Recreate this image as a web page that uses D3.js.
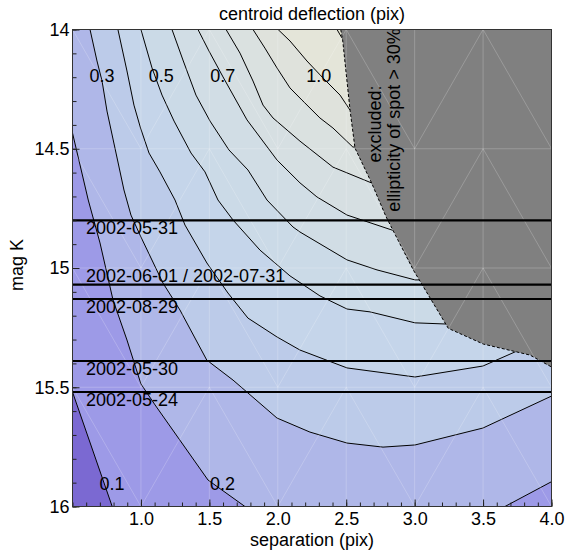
<!DOCTYPE html>
<html><head><meta charset="utf-8">
<script src="https://cdn.jsdelivr.net/npm/d3@7"></script>
<style>
body{margin:0;background:#fff;}
text{font-family:"Liberation Sans",Arial,Helvetica,sans-serif;}
</style></head><body>
<svg id="chart" width="567" height="552"></svg>
<script>
// ---------------- DATA ----------------
// contour levels (centroid deflection, pix)
const levels = [0.1,0.2,0.3,0.4,0.5,0.6,0.7,0.8,0.9,1.0,1.1];
// contour pieces: [separation, magK]
const c010  = [[0.5,15.52],[0.79,16.0]];
const c020a = [[0.5,14.434],[0.555,14.568],[0.615,14.715],[0.701,14.895],[0.796,15.134],[0.898,15.302],[1.0,15.486],[1.103,15.574],[1.49,15.889],[1.76,16.0]];
const c020b = [[3.66,16.0],[4.0,15.896]];
const c030  = [[0.628,14.0],[0.679,14.132],[0.716,14.216],[0.752,14.342],[0.818,14.518],[0.876,14.673],[0.927,14.778],[1.0,14.87],[1.161,15.063],[1.285,15.176],[1.481,15.386],[1.673,15.47],[1.994,15.629],[2.235,15.688],[2.506,15.734],[2.769,15.751],[3.003,15.742],[3.499,15.671],[4.0,15.537]];
const c040  = [[0.832,14.0],[0.898,14.174],[0.949,14.317],[0.997,14.413],[1.059,14.518],[1.139,14.597],[1.249,14.715],[1.322,14.82],[1.482,14.979],[1.636,15.105],[1.782,15.21],[1.994,15.289],[2.162,15.344],[2.506,15.419],[3.003,15.457],[3.499,15.411],[3.733,15.352],[4.0,15.281]];
const c050  = [[1.0,14.0],[1.081,14.161],[1.154,14.275],[1.242,14.384],[1.366,14.518],[1.468,14.597],[1.563,14.715],[1.673,14.799],[1.87,14.925],[2.089,15.033],[2.308,15.117],[2.506,15.172],[2.674,15.184],[3.003,15.23],[3.237,15.235],[4.0,15.134]];
const c060  = [[1.227,14.0],[1.307,14.128],[1.402,14.275],[1.505,14.384],[1.643,14.505],[1.782,14.589],[1.921,14.715],[2.111,14.828],[2.162,14.849],[2.506,14.966],[2.725,15.008],[3.003,15.05],[3.186,15.05],[4.0,14.945]];
const c070  = [[1.417,14.0],[1.497,14.09],[1.6,14.199],[1.775,14.379],[1.994,14.547],[2.162,14.643],[2.286,14.702],[2.506,14.778],[2.835,14.841],[3.0,14.84],[4.0,14.778]];
const c080  = [[1.622,14.0],[1.724,14.099],[1.819,14.216],[1.892,14.317],[1.965,14.371],[2.162,14.468],[2.403,14.577],[2.688,14.644],[2.9,14.64],[4.0,14.61]];
const c090  = [[1.819,14.0],[1.906,14.078],[1.994,14.161],[2.089,14.245],[2.177,14.296],[2.308,14.371],[2.403,14.413],[2.549,14.493],[2.7,14.49],[4.0,14.38]];
const c100  = [[2.002,14.0],[2.089,14.048],[2.213,14.132],[2.33,14.203],[2.455,14.275],[2.528,14.338],[2.7,14.33],[4.0,14.212]];
const c110  = [[2.433,14.0],[2.469,14.036],[2.6,14.04],[4.0,14.044]];
const pieceLevels = [0.1,0.2,0.2,0.3,0.4,0.5,0.6,0.7,0.8,0.9,1.0,1.1];
const pieceArrays = [c010,c020a,c020b,c030,c040,c050,c060,c070,c080,c090,c100,c110];

// excluded region boundary (ellipticity of spot > 30%)
const exclusion = [[2.46,14.0],[2.474,14.044],[2.528,14.338],[2.564,14.497],[2.686,14.644],[2.791,14.785],[2.99,15.008],[3.246,15.253],[3.502,15.319],[3.843,15.365],[4.0,15.415]];

// contour labels
const contourLabelText = ["0.1","0.2","0.3","0.5","0.7","1.0"];
const contourLabelSep  = [0.789,1.596,0.716,1.148,1.598,2.299];
const contourLabelMag  = [15.903,15.906,14.194,14.194,14.194,14.192];

// observation epochs
const epochDates = ["2002-05-31","2002-06-01 / 2002-07-31","2002-08-29","2002-05-30","2002-05-24"];
const epochMags  = [14.80,15.07,15.13,15.39,15.52];
const epochLabelSide = ["below","above","below","below","below"];

// axes
const xTickValues = [1.0,1.5,2.0,2.5,3.0,3.5,4.0];
const yTickValues = [14,14.5,15,15.5,16];
const gridSeps = [0.5,1.0,1.5,2.0,2.5,3.0,3.5,4.0];
const gridMags = [14,14.5,15,15.5,16];

// ---------------- STYLE ----------------
const bandColors = ["#7b69d2","#9d9ae7","#afb7e8","#bccbe9","#c5d5ea","#cbdae7","#d1dde5","#d6dfe2","#dae1e0","#dfe2dc","#e4e5d9","#e8e8d6"];
const FS = 18;

// ---------------- CHART ----------------
const svg = d3.select("#chart");
const x = d3.scaleLinear().domain([0.5,4.0]).range([72.5,551.5]);
const y = d3.scaleLinear().domain([14,16]).range([29.5,506.5]);
const X0=x.range()[0], X1=x.range()[1], Y0=y.range()[0], Y1=y.range()[1];
const W=X1-X0, H=Y1-Y0, P=2*W+2*H;

svg.append("defs").append("clipPath").attr("id","clip")
  .append("rect").attr("x",X0).attr("y",Y0).attr("width",W).attr("height",H);

function perim(px,py){
  const d=[Math.abs(py-Y0),Math.abs(px-X1),Math.abs(py-Y1),Math.abs(px-X0)];
  const k=d.indexOf(Math.min(...d));
  if(k===0) return px-X0;
  if(k===1) return W+(py-Y0);
  if(k===2) return W+H+(X1-px);
  return 2*W+H+(Y1-py);
}
const corners=[[0,[X0,Y0]],[W,[X1,Y0]],[W+H,[X1,Y1]],[2*W+H,[X0,Y1]]];
function walk(t1,t2){
  if(t2<=t1) t2+=P;
  const out=[];
  [0,P].forEach(b=>corners.forEach(([t,pt])=>{const tt=t+b; if(tt>t1&&tt<t2) out.push({tt,pt});}));
  out.sort((a,b)=>a.tt-b.tt);
  return out.map(o=>o.pt);
}

const plot = svg.append("g").attr("clip-path","url(#clip)");
plot.append("rect").attr("x",X0).attr("y",Y0).attr("width",W).attr("height",H).attr("fill",bandColors[0]);

levels.forEach((lev,i)=>{
  const pieces = pieceArrays.filter((a,k)=>pieceLevels[k]===lev)
    .map(a=>a.slice().reverse().map(d=>[x(d[0]),y(d[1])]));
  let poly=[];
  pieces.forEach((pc,k)=>{
    poly=poly.concat(pc);
    const nxt=pieces[(k+1)%pieces.length];
    poly=poly.concat(walk(perim(...pc[pc.length-1]),perim(...nxt[0])));
  });
  plot.append("path").attr("d","M"+poly.map(p=>p.join(",")).join("L")+"Z")
    .attr("fill",bandColors[i+1]).attr("stroke",bandColors[i+1]).attr("stroke-width",0.3);
});

const line = d3.line().x(d=>x(d[0])).y(d=>y(d[1]));
plot.selectAll("path.contour").data(pieceArrays).join("path").attr("class","contour")
  .attr("d",line).attr("fill","none").attr("stroke","#000").attr("stroke-width",1);

// excluded region
plot.append("path").attr("d",line(exclusion.concat([[4.0,14.0]]))+"Z").attr("fill","#808080");

// faint mesh seams
const seams=[];
gridSeps.slice(1,-1).forEach(s=>seams.push([[s,14],[s,16]]));
gridMags.slice(1,-1).forEach(m=>seams.push([[0.5,m],[4.0,m]]));
for(let i=0;i<gridSeps.length-1;i++) for(let j=0;j<gridMags.length-1;j++){
  if(i%2===0) seams.push([[gridSeps[i],gridMags[j]],[gridSeps[i+1],gridMags[j+1]]]);
  else seams.push([[gridSeps[i],gridMags[j+1]],[gridSeps[i+1],gridMags[j]]]);
}
plot.selectAll("path.seam").data(seams).join("path").attr("class","seam")
  .attr("d",line).attr("fill","none").attr("stroke","#fff").attr("stroke-opacity",0.3).attr("stroke-width",0.7);

// dashed boundary
plot.append("path").attr("d",line(exclusion)).attr("fill","none").attr("stroke","#000")
  .attr("stroke-width",1).attr("stroke-dasharray","3,2");

// epoch lines
plot.selectAll("line.epoch").data(epochMags).join("line").attr("class","epoch")
  .attr("x1",X0).attr("x2",X1).attr("y1",d=>y(d)).attr("y2",d=>y(d))
  .attr("stroke","#000").attr("stroke-width",2.2);
svg.selectAll("text.epoch").data(epochDates).join("text").attr("class","epoch")
  .attr("x",X0+13.5)
  .attr("y",(d,i)=>y(epochMags[i])+(epochLabelSide[i]==="below"?13.8:-2.5))
  .attr("font-size",FS).attr("fill","#000").text(d=>d);

// contour labels
svg.selectAll("text.clabel").data(contourLabelText).join("text").attr("class","clabel")
  .attr("x",(d,i)=>x(contourLabelSep[i])).attr("y",(d,i)=>y(contourLabelMag[i]))
  .attr("dy","0.35em").attr("text-anchor","middle").attr("font-size",FS).attr("fill","#000").text(d=>d);

// excluded text
svg.append("text").attr("transform","translate(381,124) rotate(-90)").attr("text-anchor","middle")
  .attr("font-size",FS).attr("fill","#000").text("excluded:");
svg.append("text").attr("transform","translate(400,120) rotate(-90)").attr("text-anchor","middle")
  .attr("font-size",FS).attr("fill","#000").text("ellipticity of spot > 30%");

// axes
const xMinor = d3.axisBottom(x).tickValues(x.ticks(35)).tickSizeInner(-4).tickSizeOuter(0).tickFormat("");
const xMajor = d3.axisBottom(x).tickValues(xTickValues).tickSizeInner(-7).tickSizeOuter(0).tickPadding(5.8).tickFormat(d3.format(".1f"));
const yMinor = d3.axisLeft(y).tickValues(y.ticks(20)).tickSizeInner(-4).tickSizeOuter(0).tickFormat("");
const yMajor = d3.axisLeft(y).tickValues(yTickValues).tickSizeInner(-7).tickSizeOuter(0).tickPadding(3).tickFormat(d=>String(d));
[xMinor,xMajor].forEach(a=>{
  const g=svg.append("g").attr("transform",`translate(0,${Y1})`).call(a);
  g.select(".domain").remove();
  g.attr("color","#222");
  g.selectAll("text").attr("font-size",FS).attr("fill","#000").attr("font-family",null);
});
[yMinor,yMajor].forEach(a=>{
  const g=svg.append("g").attr("transform",`translate(${X0},0)`).call(a);
  g.select(".domain").remove();
  g.attr("color","#222");
  g.selectAll("text").attr("font-size",FS).attr("fill","#000").attr("font-family",null);
});
svg.selectAll(".tick line").attr("stroke-width",1);

// frame
svg.append("rect").attr("x",X0).attr("y",Y0).attr("width",W).attr("height",H)
  .attr("fill","none").attr("stroke","#333").attr("stroke-width",1);

// titles
svg.append("text").attr("x",(X0+X1)/2).attr("y",20).attr("text-anchor","middle")
  .attr("font-size",FS).attr("fill","#000").text("centroid deflection (pix)");
svg.append("text").attr("x",(X0+X1)/2).attr("y",545.5).attr("text-anchor","middle")
  .attr("font-size",FS).attr("fill","#000").text("separation (pix)");
svg.append("text").attr("transform","translate(23,265) rotate(-90)").attr("text-anchor","middle")
  .attr("font-size",FS).attr("fill","#000").text("mag K");
</script>
</body></html>
